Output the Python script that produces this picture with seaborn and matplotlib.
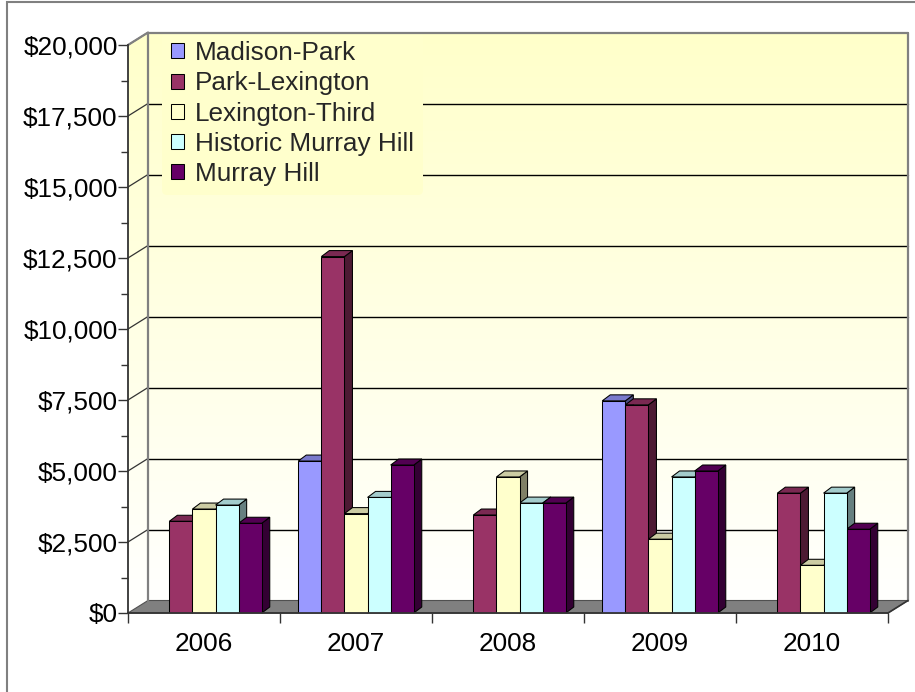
import numpy as np
import pandas as pd
import matplotlib
matplotlib.use("Agg")
import matplotlib.pyplot as plt
import seaborn as sns
from matplotlib.patches import Polygon, Rectangle, Patch
from matplotlib.lines import Line2D
from matplotlib.transforms import IdentityTransform
from matplotlib.colors import to_rgb
from matplotlib.ticker import MultipleLocator, FuncFormatter, FixedLocator

# ---------------- data ----------------
years = ["2006", "2007", "2008", "2009", "2010"]
series_names = ["Madison-Park", "Park-Lexington", "Lexington-Third",
                "Historic Murray Hill", "Murray Hill"]
madison_park = [np.nan, 5350, np.nan, 7470, np.nan]
park_lexington = [3230, 12550, 3450, 7330, 4220]
lexington_third = [3660, 3500, 4790, 2600, 1680]
historic_murray_hill = [3800, 4070, 3870, 4790, 4220]
murray_hill = [3160, 5210, 3870, 5000, 2950]
series_colors = ["#9999FF", "#993366", "#FFFFCC", "#CCFFFF", "#660066"]
y_ticks = [0, 2500, 5000, 7500, 10000, 12500, 15000, 17500, 20000]

values = [madison_park, park_lexington, lexington_third,
          historic_murray_hill, murray_hill]
rows = []
for name, vals in zip(series_names, values):
    for yr, v in zip(years, vals):
        rows.append({"Year": yr, "Series": name, "Value": v})
df = pd.DataFrame(rows)

# ---------------- style ----------------
sns.set_theme(style="ticks")
plt.rcParams["font.family"] = ["Liberation Sans", "DejaVu Sans"]
FS = 18.8

W, H = 915, 692
fig = plt.figure(figsize=(W / 100, H / 100), dpi=100)
fig.patch.set_facecolor("white")
ax = fig.add_axes([128 / W, 79 / H, 760 / W, 568 / H])

sns.barplot(data=df, x="Year", y="Value", hue="Series", order=years,
            hue_order=series_names, palette=series_colors, saturation=1,
            width=0.76, errorbar=None, edgecolor="black", linewidth=0.75,
            legend=False, ax=ax, zorder=8)
bars = [p for p in ax.patches
        if np.isfinite(p.get_height()) and p.get_height() > 0]

ax.set_xlim(-0.5, 4.5)
ax.set_ylim(0, 20000)
ax.patch.set_visible(False)
ax.set_xlabel("")
ax.set_ylabel("")

WD = (20, 12.5)   # wall depth in pixels
BD = (8, 6)       # bar depth in pixels


def P(x, v, d=(0, 0)):
    px = ax.transData.transform((x, v))
    return (px[0] + d[0], px[1] + d[1])


ID = IdentityTransform()
x0, x1 = -0.5, 4.5
ymax = 20000

# wall outline (side wall + back wall)
outline = [P(x0, 0), P(x0, ymax), P(x0, ymax, WD), P(x1, ymax, WD),
           P(x1, 0, WD), P(x1, 0)]
clip_poly = Polygon(outline, closed=True, transform=ID)

# gradient background
n = 256
t = np.linspace(0, 1, n)[:, None]
top = np.array(to_rgb("#FFFFCA"))
bot = np.array([1.0, 1.0, 1.0])
grad = (top[None, None, :] * (1 - t[..., None]) + bot[None, None, :] * t[..., None])
grad = np.repeat(grad, 2, axis=1)
l = P(x0, 0)[0]
r = P(x1, 0, WD)[0]
b = P(x0, 0)[1]
tp = P(x0, ymax, WD)[1]
im = ax.imshow(grad, extent=(l, r, b, tp), origin="upper", aspect="auto",
               transform=ID, zorder=0, interpolation="bilinear")
im.set_clip_on(True)
im.set_clip_path(clip_poly)
im.set_clip_box(fig.bbox)
ax.set_xlim(-0.5, 4.5)
ax.set_ylim(0, 20000)

# gridlines on back wall + diagonals on side wall
for v in y_ticks[1:-1]:
    a, bb = P(x0, v, WD), P(x1, v, WD)
    ax.add_line(Line2D([a[0], bb[0]], [a[1], bb[1]], transform=ID,
                       color="black", lw=1.0, zorder=1, clip_on=False))
for v in y_ticks[1:]:
    a, bb = P(x0, v), P(x0, v, WD)
    ax.add_line(Line2D([a[0], bb[0]], [a[1], bb[1]], transform=ID,
                       color="#333333", lw=0.9, zorder=1, clip_on=False))

# wall borders (grey)
wall_edges = [[P(x0, 0, WD), P(x0, ymax, WD)],
              [P(x0, ymax, WD), P(x1, ymax, WD)],
              [P(x1, ymax, WD), P(x1, 0, WD)],
              [P(x0, ymax), P(x0, ymax, WD)]]
for (a, bb) in wall_edges:
    ax.add_line(Line2D([a[0], bb[0]], [a[1], bb[1]], transform=ID,
                       color="#808080", lw=1.6, zorder=7, clip_on=False))

# floor
floor = Polygon([P(x0, 0), P(x1, 0), P(x1, 0, WD), P(x0, 0, WD)],
                closed=True, transform=ID, facecolor="#808080",
                edgecolor="#505050", lw=0.8, zorder=2, clip_on=False)
ax.add_patch(floor)
a, bb = P(x1, 0), P(x1, 0, WD)
ax.add_line(Line2D([a[0], bb[0]], [a[1], bb[1]], transform=ID,
                   color="#333333", lw=1.2, zorder=7, clip_on=False))

# 3D faces of bars
for p in bars:
    c = np.array(p.get_facecolor()[:3])
    bx, bw, bh = p.get_x(), p.get_width(), p.get_height()
    A, B, C = P(bx, bh), P(bx + bw, bh), P(bx + bw, 0)
    topf = Polygon([A, B, (B[0] + BD[0], B[1] + BD[1]),
                    (A[0] + BD[0], A[1] + BD[1])], closed=True,
                   transform=ID, facecolor=c * 0.8, edgecolor="black",
                   lw=0.75, zorder=4, clip_on=False)
    side = Polygon([C, B, (B[0] + BD[0], B[1] + BD[1]),
                    (C[0] + BD[0], C[1] + BD[1])], closed=True,
                   transform=ID, facecolor=c * 0.5, edgecolor="black",
                   lw=0.75, zorder=3, clip_on=False)
    ax.add_patch(side)
    ax.add_patch(topf)

# axes, ticks
for s in ["top", "right"]:
    ax.spines[s].set_visible(False)
for s in ["left", "bottom"]:
    ax.spines[s].set_color("#333333")
    ax.spines[s].set_linewidth(1.3)
    ax.spines[s].set_zorder(9)

ax.yaxis.set_major_locator(FixedLocator(y_ticks))
ax.yaxis.set_minor_locator(MultipleLocator(1250))
ax.yaxis.set_major_formatter(FuncFormatter(lambda v, _: "${:,.0f}".format(v)))
ax.tick_params(axis="y", which="major", length=7, width=1, color="#333333",
               labelsize=FS, pad=0.5, labelcolor="black")
ax.tick_params(axis="y", which="minor", length=5, width=1, color="#333333")

ax.set_xticks(range(len(years)))
ax.set_xticklabels(years)
ax.xaxis.set_minor_locator(FixedLocator(np.arange(-0.5, 4.6, 1.0)))
ax.tick_params(axis="x", which="major", length=0, labelsize=FS, pad=14,
               labelcolor="black")
ax.tick_params(axis="x", which="minor", length=7, width=1, color="#333333")

# legend
handles = [Patch(facecolor=c, edgecolor="black", lw=0.75) for c in series_colors]
leg = ax.legend(handles, series_names, loc="upper left",
                bbox_to_anchor=(162 / W, 1 - 32 / H),
                bbox_transform=fig.transFigure, frameon=True,
                facecolor="#FFFFCC", edgecolor="none", framealpha=1,
                fontsize=FS, handlelength=0.5, handleheight=0.5,
                handletextpad=0.4, labelspacing=0.24, borderpad=0.35,
                borderaxespad=0)
leg.set_zorder(5)
leg.get_frame().set_linewidth(0)

# outer border (only left and top visible in the crop)
fig.add_artist(Rectangle((7 / W, -0.1), 1.2, 1.1 - 1.5 / H,
                         transform=fig.transFigure, fill=False,
                         edgecolor="#808080", lw=1.5))

fig.savefig("out.png", dpi=100)
